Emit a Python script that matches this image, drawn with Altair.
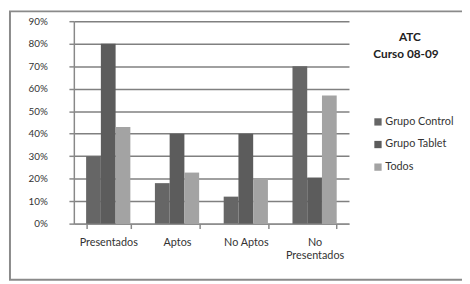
import altair as alt
import pandas as pd

categories = ["Presentados", "Aptos", "No Aptos", "No Presentados"]
series = ["Grupo Control", "Grupo Tablet", "Todos"]
control = [0.30, 0.18, 0.12, 0.70]
tablet = [0.80, 0.40, 0.40, 0.205]
todos = [0.43, 0.227, 0.20, 0.57]
title_lines = ["ATC", "Curso 08-09"]

rows = []
for i, c in enumerate(categories):
    for s, vals in zip(series, [control, tablet, todos]):
        rows.append({"cat": c, "serie": s, "val": vals[i]})
df = pd.DataFrame(rows)

FONT = "Lato"

bars = alt.Chart(df).mark_bar().encode(
    x=alt.X("cat:N", sort=categories, title=None,
            scale=alt.Scale(paddingInner=0.357, paddingOuter=0.1786),
            axis=alt.Axis(labelAngle=0, tickBand="extent", tickSize=5, tickColor="#888",
                          tickWidth=1.5, domainColor="#888", domainWidth=1.5,
                          labelFont=FONT, labelFontSize=11, labelColor="#333", labelPadding=8,
                          labelExpr="datum.label == 'No Presentados' ? ['No', 'Presentados'] : datum.label")),
    xOffset=alt.XOffset("serie:N", sort=series, scale=alt.Scale(paddingInner=0, paddingOuter=0)),
    y=alt.Y("val:Q", title=None,
            scale=alt.Scale(domain=[0, 0.9], nice=False),
            axis=alt.Axis(format=".0%", values=[i / 10 for i in range(10)], tickSize=5,
                          tickColor="#888", tickWidth=1.5, gridColor="#808080", gridWidth=1.5,
                          domainColor="#888", domainWidth=1.5, labelFont=FONT, labelFontSize=10,
                          labelColor="#333", labelPadding=22)),
    color=alt.Color("serie:N", sort=series,
                    scale=alt.Scale(domain=series, range=["#666666", "#5c5c5c", "#a3a3a3"]),
                    legend=alt.Legend(title=None, orient="none", legendX=304, legendY=97,
                                      symbolType="square", symbolSize=55, symbolStrokeWidth=0,
                                      rowPadding=11, labelFont=FONT, labelFontSize=11,
                                      labelColor="#333", labelOffset=2)),
)

tdf = pd.DataFrame({"t": title_lines})
t1 = alt.Chart(tdf).transform_filter(alt.datum.t == title_lines[0]).mark_text(
    font=FONT, fontSize=12, fontWeight="bold", color="#222", align="center", baseline="middle"
).encode(text="t:N", x=alt.value(342), y=alt.value(16))
t2 = alt.Chart(tdf).transform_filter(alt.datum.t == title_lines[1]).mark_text(
    font=FONT, fontSize=12, fontWeight="bold", color="#222", align="center", baseline="middle"
).encode(text="t:N", x=alt.value(338), y=alt.value(33))

border = alt.Chart(pd.DataFrame({"a": [0]})).mark_rect(fill=None, stroke="#8a8a8a", strokeWidth=2).encode(
    x=alt.value(-65), x2=alt.value(410), y=alt.value(-10), y2=alt.value(263))

chart = alt.layer(border, bars, t1, t2).properties(
    width=280, height=206,
    autosize=alt.AutoSizeParams(type="none"),
    padding={"left": 67, "top": 11, "right": 115, "bottom": 59},
    background="white",
).configure_view(stroke=None)

chart.save("out.html", embed_options={"renderer": "svg", "actions": False})
